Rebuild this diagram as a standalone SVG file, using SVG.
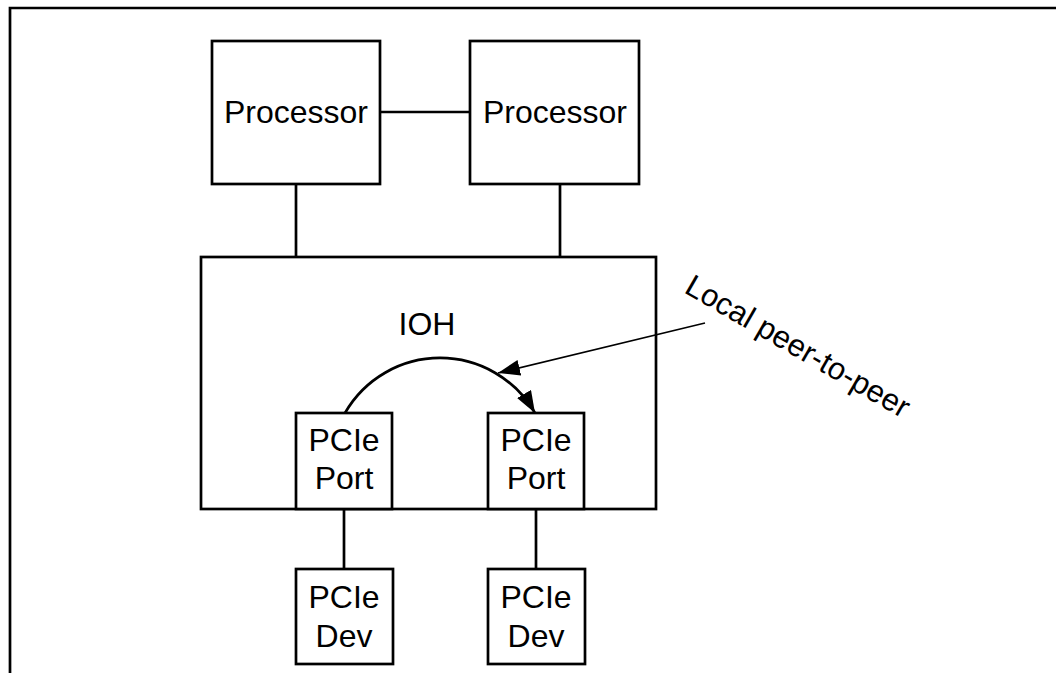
<svg xmlns="http://www.w3.org/2000/svg" width="1056" height="673" viewBox="0 0 1056 673">
<style>
.box{fill:#fff;stroke:#000;stroke-width:2.7}
.ln{fill:none;stroke:#000;stroke-width:2.7}
.t{font-family:"Liberation Sans",Arial,sans-serif;font-size:32px;fill:#000;text-anchor:middle}
</style>
<defs>
<marker id="ah" markerUnits="userSpaceOnUse" markerWidth="26" markerHeight="18" refX="22" refY="8" orient="auto">
<path d="M0,0 L22,8 L0,16 Z" fill="#000"/>
</marker>
</defs>
<rect width="1056" height="673" fill="#fff"/>
<path d="M10,673 V8 H1056" fill="none" stroke="#000" stroke-width="2.7"/>
<g id="connectors">
<line class="ln" x1="380" y1="112" x2="470" y2="112"/>
<line class="ln" x1="296" y1="184" x2="296" y2="257"/>
<line class="ln" x1="560" y1="184" x2="560" y2="257"/>
<line class="ln" x1="344" y1="509" x2="344" y2="569"/>
<line class="ln" x1="536" y1="509" x2="536" y2="569"/>
</g>
<g id="cpu1"><rect class="box" x="212" y="41" width="168" height="143"/><text class="t" x="296" y="123">Processor</text></g>
<g id="cpu2"><rect class="box" x="470" y="41" width="169" height="143"/><text class="t" x="555" y="123">Processor</text></g>
<g id="ioh"><rect class="box" x="201" y="257" width="455" height="252"/><text class="t" x="427" y="335">IOH</text></g>
<g id="port1"><rect class="box" x="296" y="413" width="96" height="96"/><text class="t" x="344" y="451">PCIe</text><text class="t" x="344" y="489">Port</text></g>
<g id="port2"><rect class="box" x="488" y="413" width="96" height="96"/><text class="t" x="536" y="451">PCIe</text><text class="t" x="536" y="489">Port</text></g>
<g id="dev1"><rect class="box" x="296" y="569" width="97" height="95"/><text class="t" x="344" y="608">PCIe</text><text class="t" x="344" y="647">Dev</text></g>
<g id="dev2"><rect class="box" x="488" y="569" width="97" height="95"/><text class="t" x="536" y="608">PCIe</text><text class="t" x="536" y="647">Dev</text></g>
<g id="p2p">
<path class="ln" d="M345,413 A109.5,109.5 0 0 1 535,413" marker-end="url(#ah)"/>
<line x1="705" y1="323" x2="498" y2="373" stroke="#000" stroke-width="1.6" marker-end="url(#ah)"/>
<text transform="translate(683,292) rotate(30)" font-family="Liberation Sans,Arial,sans-serif" font-size="31" fill="#000">Local peer-to-peer</text>
</g>
</svg>
